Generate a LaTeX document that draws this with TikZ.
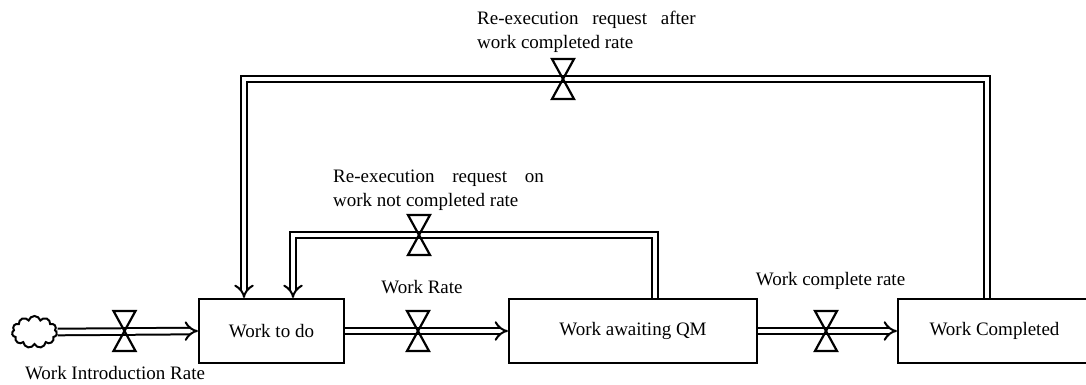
\documentclass[tikz,border=0pt]{standalone}
\usepackage{fontspec}
\setmainfont{Liberation Serif}
\usetikzlibrary{arrows.meta,shapes.symbols}

\tikzset{
  stock/.style={draw, line width=2.2pt, inner sep=0pt, minimum height=64pt},
  pipe/.style={double, double distance=4.6pt, line width=2pt, line join=miter},
  flowtip/.style={-{Implies[scale=1.25]}},
  rate/.style={inner sep=0pt, anchor=base},
  pics/flowvalve/.style={code={
    \draw[line width=2.2pt, line join=miter] (-11,-20) -- (11,-20) -- (-11,20) -- (11,20) -- cycle;
  }}
}

\begin{document}
\begin{tikzpicture}[x=1pt, y=-1pt, every node/.style={font=\fontsize{19}{24}\selectfont}]

		\useasboundingbox (0,0) rectangle (1086,385);

		% Source cloud and the three stocks
		\node[cloud, draw, line width=2pt, cloud puffs=11, aspect=1.5,
		      minimum width=45pt, minimum height=32pt, inner sep=0pt] (source) at (34.5,332) {};
		\node[stock, minimum width=145pt] (todo) at (271.5,331) {Work to do};
		\node[stock, minimum width=248pt] (awaiting) at (633,331) {Work awaiting QM};
		\node[stock, minimum width=193pt] (completed) at (994.5,331) {Work Completed};

		% Corners of the two re-execution loops
		\coordinate (innerR) at (655,235);
		\coordinate (innerL) at (293,235);
		\coordinate (outerR) at (987,79);
		\coordinate (outerL) at (244,79);

		% Main flow pipes
		\draw[pipe, flowtip] (source.east) -- (todo.west);
		\draw[pipe, flowtip] (todo.east) -- (awaiting.west);
		\draw[pipe, flowtip] (awaiting.east) -- (completed.west);

		% Feedback pipes
		\draw[pipe, flowtip] (awaiting.north -| innerR) -- (innerR) -- (innerL) -- (todo.north -| innerL);
		\draw[pipe, flowtip] (completed.north -| outerR) -- (outerR) -- (outerL) -- (todo.north -| outerL);

		% Valves on the pipes
		\pic at (124.5,331) {flowvalve};
		\pic at (418,331) {flowvalve};
		\pic at (826,331) {flowvalve};
		\pic at (419,235) {flowvalve};
		\pic at (563,79) {flowvalve};

		% Rate labels
		\node[rate] (introRate) at (115,379) {Work Introduction Rate};
		\node[rate] (workRate) at (422,293) {Work Rate};
		\node[rate] (completeRate) at (830.5,285) {Work complete rate};
		\node[inner sep=0pt, anchor=north west, align=left] (innerRate) at (333,169.5)
		  {Re-execution\hspace{13pt} request\hspace{13pt} on\\work not completed rate};
		\node[inner sep=0pt, anchor=north west, align=left] (outerRate) at (477,11)
		  {Re-execution\hspace{9pt} request\hspace{9pt} after\\work completed rate};

\end{tikzpicture}
\end{document}
